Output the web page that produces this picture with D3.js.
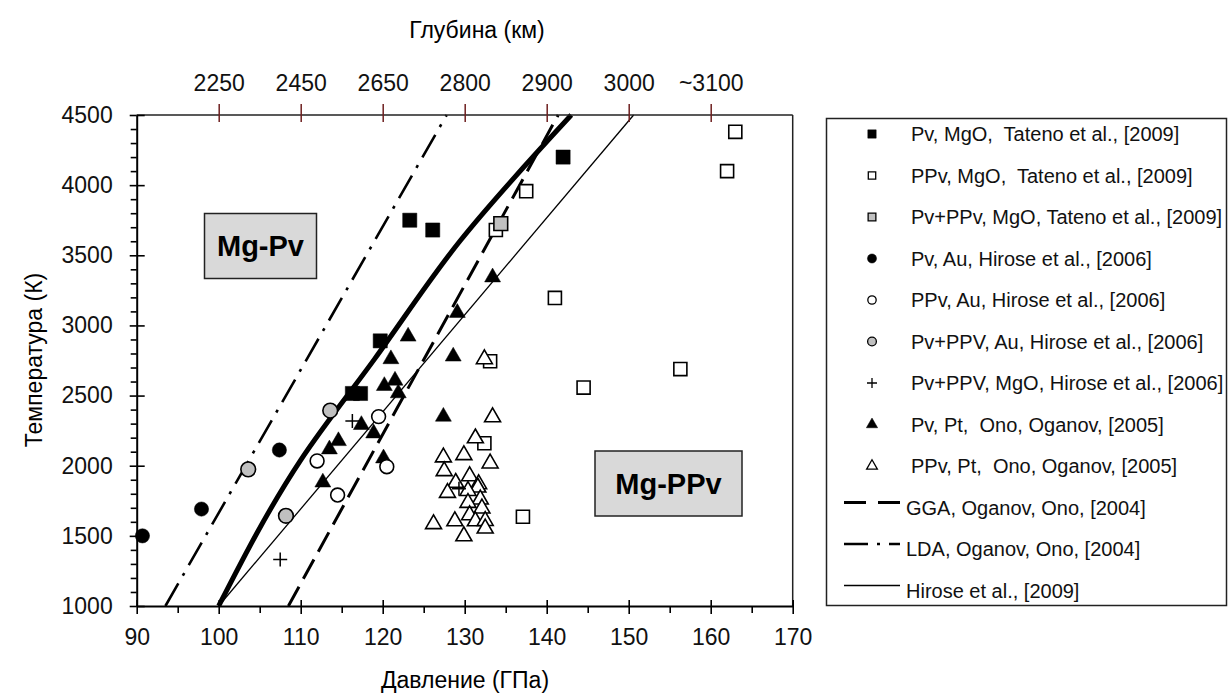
<!DOCTYPE html>
<html>
<head>
<meta charset="utf-8">
<script src="https://cdn.jsdelivr.net/npm/d3@7"></script>
<style>
  body { margin: 0; background: #fff; }
  svg { font-family: "Liberation Sans", Arial, sans-serif; }
</style>
</head>
<body>
<svg id="chart" width="1228" height="698"></svg>
<script>
// data: [pressure GPa, temperature K]
var pvMgO = [[123.3,3750],[126.1,3680],[119.7,2890],[116.3,2515],[117.3,2515],[142.0,4200]];
var ppvMgO = [[163.0,4380],[162.0,4100],[137.5,3957],[133.8,3680],[141.0,3196],[156.3,2689],
              [144.5,2557],[133.1,2745],[132.4,2160],[137.1,1636]];
var pvppvMgO = [[134.4,3726]];
var pvAu = [[107.4,2112],[97.9,1691],[90.7,1500]];
var ppvAu = [[112.0,2034],[119.5,2350],[120.5,1993],[114.5,1791]];
var pvppvAu = [[113.6,2393],[103.6,1974],[108.2,1643]];
var pvppvMgOHirose = [[116.3,2319],[107.5,1331],[129.3,1835]];
var pvPt = [[123.1,2921],[121.0,2760],[128.6,2779],[129.1,3090],[133.4,3343],[120.2,2569],[121.5,2607],
            [121.9,2517],[117.4,2291],[118.9,2231],[114.6,2176],[113.5,2117],[120.1,2053],[112.7,1881],[127.4,2350]];
var ppvPt = [[132.4,2760],[127.4,2060],[127.5,1962],[128.9,1879],[127.9,1807],[126.2,1584],[128.8,1605],
             [133.4,2346],[131.3,2196],[129.9,2076],[133.1,2017],[130.6,1926],[131.7,1869],[131.6,1845],
             [130.4,1821],[131.9,1760],[130.4,1736],[132.1,1696],[130.6,1648],[131.3,1605],[132.5,1607],
             [132.5,1553],[129.9,1498]];

// boundaries
var tatenoCurve = [[100,1000],[110,2040],[119.0,2760],[129.4,3600],[143.0,4500]];
var ggaLine = [[108.5,1000],[141.4,4500]];
var ldaLine = [[93.5,1000],[127.8,4500]];
var hiroseLine = [[100,1000],[150.6,4500]];

// depth axis
var depthPressures = [100,110,120,130,140,150,160];
var depthLabels = ["2250","2450","2650","2800","2900","3000","~3100"];

var legendLabels = [
  "Pv, MgO,  Tateno et al., [2009]",
  "PPv, MgO,  Tateno et al., [2009]",
  "Pv+PPv, MgO, Tateno et al., [2009]",
  "Pv, Au, Hirose et al., [2006]",
  "PPv, Au, Hirose et al., [2006]",
  "Pv+PPV, Au, Hirose et al., [2006]",
  "Pv+PPV, MgO, Hirose et al., [2006]",
  "Pv, Pt,  Ono, Oganov, [2005]",
  "PPv, Pt,  Ono, Oganov, [2005]",
  "GGA, Oganov, Ono, [2004]",
  "LDA, Oganov, Ono, [2004]",
  "Hirose et al., [2009]"
];

var svg = d3.select("#chart");
var x = d3.scaleLinear().domain([90, 170]).range([136.7, 792.7]);
var y = d3.scaleLinear().domain([1000, 4500]).range([606, 115]);

// lines
var line = d3.line().x(function(d){ return x(d[0]); }).y(function(d){ return y(d[1]); });
var lines = svg.append("g");
lines.append("path").datum(ldaLine).attr("d", line)
  .attr("fill","none").attr("stroke","#000").attr("stroke-width",2.6).attr("stroke-dasharray","26,9,3,9");
lines.append("path").datum(ggaLine).attr("d", line)
  .attr("fill","none").attr("stroke","#000").attr("stroke-width",3).attr("stroke-dasharray","22,9");
lines.append("path").datum(hiroseLine).attr("d", line)
  .attr("fill","none").attr("stroke","#000").attr("stroke-width",1.3);
lines.append("path").datum(tatenoCurve).attr("d", line.curve(d3.curveMonotoneY))
  .attr("fill","none").attr("stroke","#000").attr("stroke-width",5);

// markers
function markers(data, type, fill, size) {
  var sym = d3.symbol().type(type).size(size);
  svg.append("g").selectAll("path").data(data).enter().append("path")
    .attr("transform", function(d){ return "translate(" + x(d[0]) + "," + y(d[1]) + ")"; })
    .attr("d", sym)
    .attr("fill", fill)
    .attr("stroke", "#000")
    .attr("stroke-width", fill == "#000" ? 0.5 : 1.6);
}
function crosses(data) {
  svg.append("g").selectAll("path").data(data).enter().append("path")
    .attr("d", "M-7,0H7M0,-7V7")
    .attr("transform", function(d){ return "translate(" + x(d[0]) + "," + y(d[1]) + ")"; })
    .attr("stroke","#000").attr("stroke-width",1.5);
}
markers(ppvMgO, d3.symbolSquare, "#fff", 170);
markers(pvPt, d3.symbolTriangle, "#000", 110);
markers(ppvPt, d3.symbolTriangle, "#fff", 110);
markers(pvMgO, d3.symbolSquare, "#000", 200);
markers(pvppvMgO, d3.symbolSquare, "#c0c0c0", 190);
markers(pvAu, d3.symbolCircle, "#000", 160);
markers(ppvAu, d3.symbolCircle, "#fff", 150);
markers(pvppvAu, d3.symbolCircle, "#c0c0c0", 170);
crosses(pvppvMgOHirose);

// phase labels
function phaseBox(x0, y0, w, h, label) {
  var g = svg.append("g");
  g.append("rect").attr("x", x0).attr("y", y0).attr("width", w).attr("height", h)
    .attr("fill","#d9d9d9").attr("stroke","#222").attr("stroke-width",1.5);
  g.append("text").attr("x", x0 + w/2).attr("y", y0 + h/2).attr("dy","0.36em")
    .attr("text-anchor","middle").attr("font-size",29).attr("font-weight","bold").text(label);
}
phaseBox(204.5, 213.5, 112, 65, "Mg-Pv");
phaseBox(595, 451, 147, 65, "Mg-PPv");

// frame
svg.append("line").attr("x1", x(90)).attr("x2", x(170)).attr("y1", y(4500)).attr("y2", y(4500))
  .attr("stroke","#222").attr("stroke-width",1.5);
svg.append("line").attr("x1", x(170)).attr("x2", x(170)).attr("y1", y(4500)).attr("y2", y(1000))
  .attr("stroke","#222").attr("stroke-width",1.5);

// bottom axis
var xAxis = svg.append("g").attr("transform","translate(0," + y(1000) + ")")
  .call(d3.axisBottom(x).tickValues(d3.range(90, 171, 10)).tickSizeInner(8).tickSizeOuter(0).tickPadding(15).tickFormat(d3.format("d")));
svg.append("g").attr("transform","translate(0," + y(1000) + ")")
  .call(d3.axisTop(x).tickValues(d3.range(90, 171, 10)).tickSize(6).tickFormat(""))
  .call(function(g){ g.select(".domain").remove(); });
svg.append("g").attr("transform","translate(0," + y(1000) + ")")
  .call(d3.axisBottom(x).tickValues(d3.range(95, 170, 10)).tickSize(7).tickFormat(""))
  .call(function(g){ g.select(".domain").remove(); });

// left axis
var yAxis = svg.append("g").attr("transform","translate(" + x(90) + ",0)")
  .call(d3.axisLeft(y).tickValues(d3.range(1000, 4501, 500)).tickSizeInner(7).tickSizeOuter(0).tickPadding(17).tickFormat(d3.format("d")));
svg.append("g").attr("transform","translate(" + x(90) + ",0)")
  .call(d3.axisRight(y).tickValues(d3.range(1000, 4501, 500)).tickSize(8).tickFormat(""))
  .call(function(g){ g.select(".domain").remove(); });
svg.append("g").attr("transform","translate(" + x(90) + ",0)")
  .call(d3.axisLeft(y).tickValues(d3.range(1100, 4500, 100).filter(function(v){ return v % 500; })).tickSize(6).tickFormat(""))
  .call(function(g){ g.select(".domain").remove(); });

[xAxis, yAxis].forEach(function(g){
  g.select(".domain").attr("stroke","#000").attr("stroke-width",2);
  g.selectAll(".tick text").attr("font-size",23).attr("font-family","Liberation Sans, Arial").attr("fill","#111");
});
svg.selectAll(".tick line").attr("stroke","#000").attr("stroke-width",1.6);

// top (depth) axis
var depth = svg.append("g").attr("transform","translate(0," + y(4500) + ")")
  .call(d3.axisTop(x).tickValues(depthPressures).tickSize(10).tickPadding(14)
    .tickFormat(function(d, i){ return depthLabels[i]; }));
depth.select(".domain").remove();
depth.selectAll(".tick line").attr("stroke","#6e1f1f").attr("stroke-width",1.5).attr("y2",-11);
depth.selectAll(".tick").append("line").attr("y1",0).attr("y2",7).attr("stroke","#6e1f1f").attr("stroke-width",1.5);
depth.selectAll(".tick text").attr("font-size",23).attr("fill","#111");

// axis titles
svg.append("text").attr("x", 465).attr("y", 688).attr("text-anchor","middle").attr("font-size",23).text("Давление (ГПа)");
svg.append("text").attr("x", 477).attr("y", 38).attr("text-anchor","middle").attr("font-size",23).text("Глубина (км)");
svg.append("text").attr("transform","translate(42,360) rotate(-90)").attr("text-anchor","middle")
  .attr("font-size",23).text("Температура (К)");

// legend
var lg = svg.append("g");
lg.append("rect").attr("x",826.5).attr("y",118.5).attr("width",400).attr("height",487)
  .attr("fill","#fff").attr("stroke","#222").attr("stroke-width",1.5);
var ly = function(i){ return 134 + i*41.5; };
var legendMarks = [
  [d3.symbolSquare, "#000", 70], [d3.symbolSquare, "#fff", 55], [d3.symbolSquare, "#c0c0c0", 60],
  [d3.symbolCircle, "#000", 65], [d3.symbolCircle, "#fff", 55], [d3.symbolCircle, "#c0c0c0", 60],
  null, [d3.symbolTriangle, "#000", 55], [d3.symbolTriangle, "#fff", 50]
];
legendMarks.forEach(function(m, i){
  if (m) {
    lg.append("path").attr("d", d3.symbol().type(m[0]).size(m[2]))
      .attr("transform","translate(872," + ly(i) + ")")
      .attr("fill", m[1]).attr("stroke","#000").attr("stroke-width", m[1] == "#000" ? 0.5 : 1.3);
  } else {
    lg.append("path").attr("d","M-5,0H5M0,-5V5").attr("transform","translate(872," + ly(i) + ")")
      .attr("stroke","#000").attr("stroke-width",1.3);
  }
});
var legendLines = [
  ["3", "22,12"], ["2.6", "24,9,3,9"], ["1.3", null]
];
legendLines.forEach(function(l, k){
  var i = 9 + k;
  var p = lg.append("line").attr("x1",844).attr("x2",900).attr("y1",ly(i)-5).attr("y2",ly(i)-5)
    .attr("stroke","#000").attr("stroke-width",l[0]);
  if (l[1]) p.attr("stroke-dasharray", l[1]);
});
lg.selectAll("text").data(legendLabels).enter().append("text")
  .attr("x", function(d, i){ return i >= 9 ? 906 : 911; })
  .attr("y", function(d, i){ return ly(i); })
  .attr("dy","0.35em").attr("font-size",20).attr("fill","#111")
  .attr("xml:space","preserve").style("white-space","pre")
  .text(function(d){ return d; });
</script>
</body>
</html>
